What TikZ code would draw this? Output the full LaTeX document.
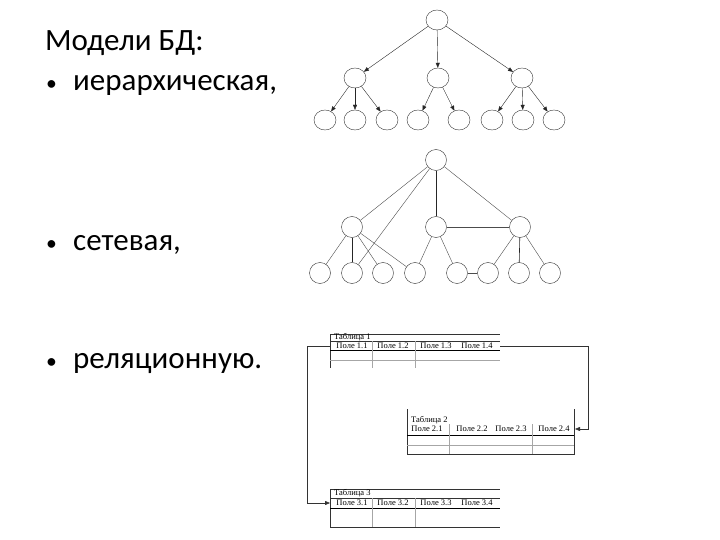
\documentclass[tikz,border=0pt]{standalone}
\usepackage{fontspec}
\setmainfont{Carlito}
\newfontfamily\tablefont{Liberation Serif}
\usetikzlibrary{arrows.meta,positioning,shapes.geometric}
\tikzstyle{treenode}=[
	ellipse,
	draw=black!80,
	thin,
	minimum width=22pt,
	minimum height=20pt,
	inner sep=0pt
]
\tikzstyle{netnode}=[
	circle,
	draw=black!80,
	thin,
	minimum size=21pt,
	inner sep=0pt
]
\tikzstyle{hierarchy}=[
	<-,
	>={Triangle[length=5pt,width=4pt]},
	thin,
	black!85
]
\tikzstyle{netlink}=[thin, black!70]
\tikzstyle{netmain}=[semithick, black!85]
\tikzstyle{bullettext}=[anchor=base west, inner sep=0pt, font=\fontsize{31}{34}\selectfont]
\tikzstyle{tabletext}=[inner sep=0pt, font=\tablefont\fontsize{8.5}{8.5}\selectfont]
\tikzstyle{gridline}=[thin, black!80]
\tikzstyle{boldline}=[semithick, black]
\tikzstyle{faintline}=[thin, black!35]
\tikzstyle{keylink}=[
	->,
	>={Triangle[length=5pt,width=4pt]},
	thin,
	black!80
]
\newcommand{\itemdot}{\makebox[28pt][l]{\hspace{1pt}\scalebox{0.7}{•}}}

\begin{document}
\begin{tikzpicture}[x=1pt,y=-1pt]
\useasboundingbox (0,0) rectangle (720,540);

% text
\node [bullettext] (Title) at (45,51) {Модели БД:};
\node [bullettext] (ItemHier) at (45,91) {\itemdot иерархическая,};
\node [bullettext] (ItemNet) at (45,251) {\itemdot сетевая,};
\node [bullettext] (ItemRel) at (45,368) {\itemdot реляционную.};

% hierarchical model
\node [treenode] (HierRoot) at (437,20) {};
\node [treenode] (HierA) at (355,78) {} edge [hierarchy] (HierRoot);
\node [treenode] (HierB) at (438,78) {} edge [hierarchy] (HierRoot);
\node [treenode] (HierC) at (522,78) {} edge [hierarchy] (HierRoot);
\node [treenode] (HierA1) at (325,120) {} edge [hierarchy] (HierA);
\node [treenode] (HierA2) at (355,120) {} edge [hierarchy] (HierA);
\node [treenode] (HierA3) at (387,120) {} edge [hierarchy] (HierA);
\node [treenode] (HierB1) at (418,120) {} edge [hierarchy] (HierB);
\node [treenode] (HierB2) at (459,120) {} edge [hierarchy] (HierB);
\node [treenode] (HierC1) at (492,120) {} edge [hierarchy] (HierC);
\node [treenode] (HierC2) at (523,120) {} edge [hierarchy] (HierC);
\node [treenode] (HierC3) at (554,120) {} edge [hierarchy] (HierC);

% network model
\node [netnode] (NetRoot) at (436,160) {};
\node [netnode] (NetA) at (352,227) {} edge [netlink] (NetRoot);
\node [netnode] (NetB) at (436,227) {} edge [netmain] (NetRoot);
\node [netnode] (NetC) at (520,227) {}
	edge [netlink] (NetRoot)
	edge [netlink] (NetB);
\node [netnode] (NetA1) at (320,273) {} edge [netlink] (NetA);
\node [netnode] (NetA2) at (352,273) {}
	edge [netmain] (NetA)
	edge [netlink] (NetRoot);
\node [netnode] (NetA3) at (383,273) {} edge [netlink] (NetA);
\node [netnode] (NetA4) at (415,273) {}
	edge [netlink] (NetA)
	edge [netlink] (NetB);
\node [netnode] (NetB1) at (457,273) {} edge [netlink] (NetB);
\node [netnode] (NetC1) at (488,273) {}
	edge [netlink] (NetC)
	edge [netlink] (NetB1);
\node [netnode] (NetC2) at (519,273) {} edge [netmain] (NetC);
\node [netnode] (NetC3) at (550,273) {} edge [netlink] (NetC);

% relational model: table 1
\draw [gridline] (330,334) -- (500,334) (330,341) -- (500,341) (330,334) -- (330,368);
\draw [boldline] (330,350) -- (500,350);
\draw [faintline] (330,360) -- (500,360) (372,341) -- (372,368) (415,341) -- (415,368);
\node [tabletext, anchor=west] (TabOneTitle) at (334,337.5) {Таблица 1};
\node [tabletext] (TabOneF1) at (352,345.5) {Поле 1.1};
\node [tabletext] (TabOneF2) at (393,345.5) {Поле 1.2};
\node [tabletext] (TabOneF3) at (436,345.5) {Поле 1.3};
\node [tabletext] (TabOneF4) at (477,345.5) {Поле 1.4};
\coordinate (TabOneLeft) at (330,346);
\coordinate (TabOneRight) at (500,346);

% table 2
\draw [gridline] (407,409) -- (407,454) -- (574,454) -- (574,409);
\draw [boldline] (407,435) -- (574,435);
\draw [faintline] (407,445) -- (574,445) (449,424) -- (449,454) (532,424) -- (532,454);
\node [tabletext, anchor=west] (TabTwoTitle) at (411,420) {Таблица 2};
\node [tabletext] (TabTwoF1) at (427,429) {Поле 2.1};
\node [tabletext] (TabTwoF2) at (472,429) {Поле 2.2};
\node [tabletext] (TabTwoF3) at (511,429) {Поле 2.3};
\node [tabletext] (TabTwoF4) at (554,429) {Поле 2.4};
\coordinate (TabTwoRight) at (575,429);

% table 3
\draw [gridline] (330,489) -- (500,489) (330,498) -- (500,498) (330,527) -- (500,527) (330,489) -- (330,527);
\draw [boldline] (330,508) -- (500,508);
\draw [faintline] (372,498) -- (372,527) (415,498) -- (415,527);
\node [tabletext, anchor=west] (TabThreeTitle) at (334,493.5) {Таблица 3};
\node [tabletext] (TabThreeF1) at (352,503) {Поле 3.1};
\node [tabletext] (TabThreeF2) at (393,503) {Поле 3.2};
\node [tabletext] (TabThreeF3) at (436,503) {Поле 3.3};
\node [tabletext] (TabThreeF4) at (477,503) {Поле 3.4};
\coordinate (TabThreeLeft) at (330,503);

% keys
\draw [keylink] (TabOneLeft) -- ++(-23,0) |- (TabThreeLeft);
\draw [keylink] (TabOneRight) -- ++(88,0) |- (TabTwoRight);
\end{tikzpicture}
\end{document}
